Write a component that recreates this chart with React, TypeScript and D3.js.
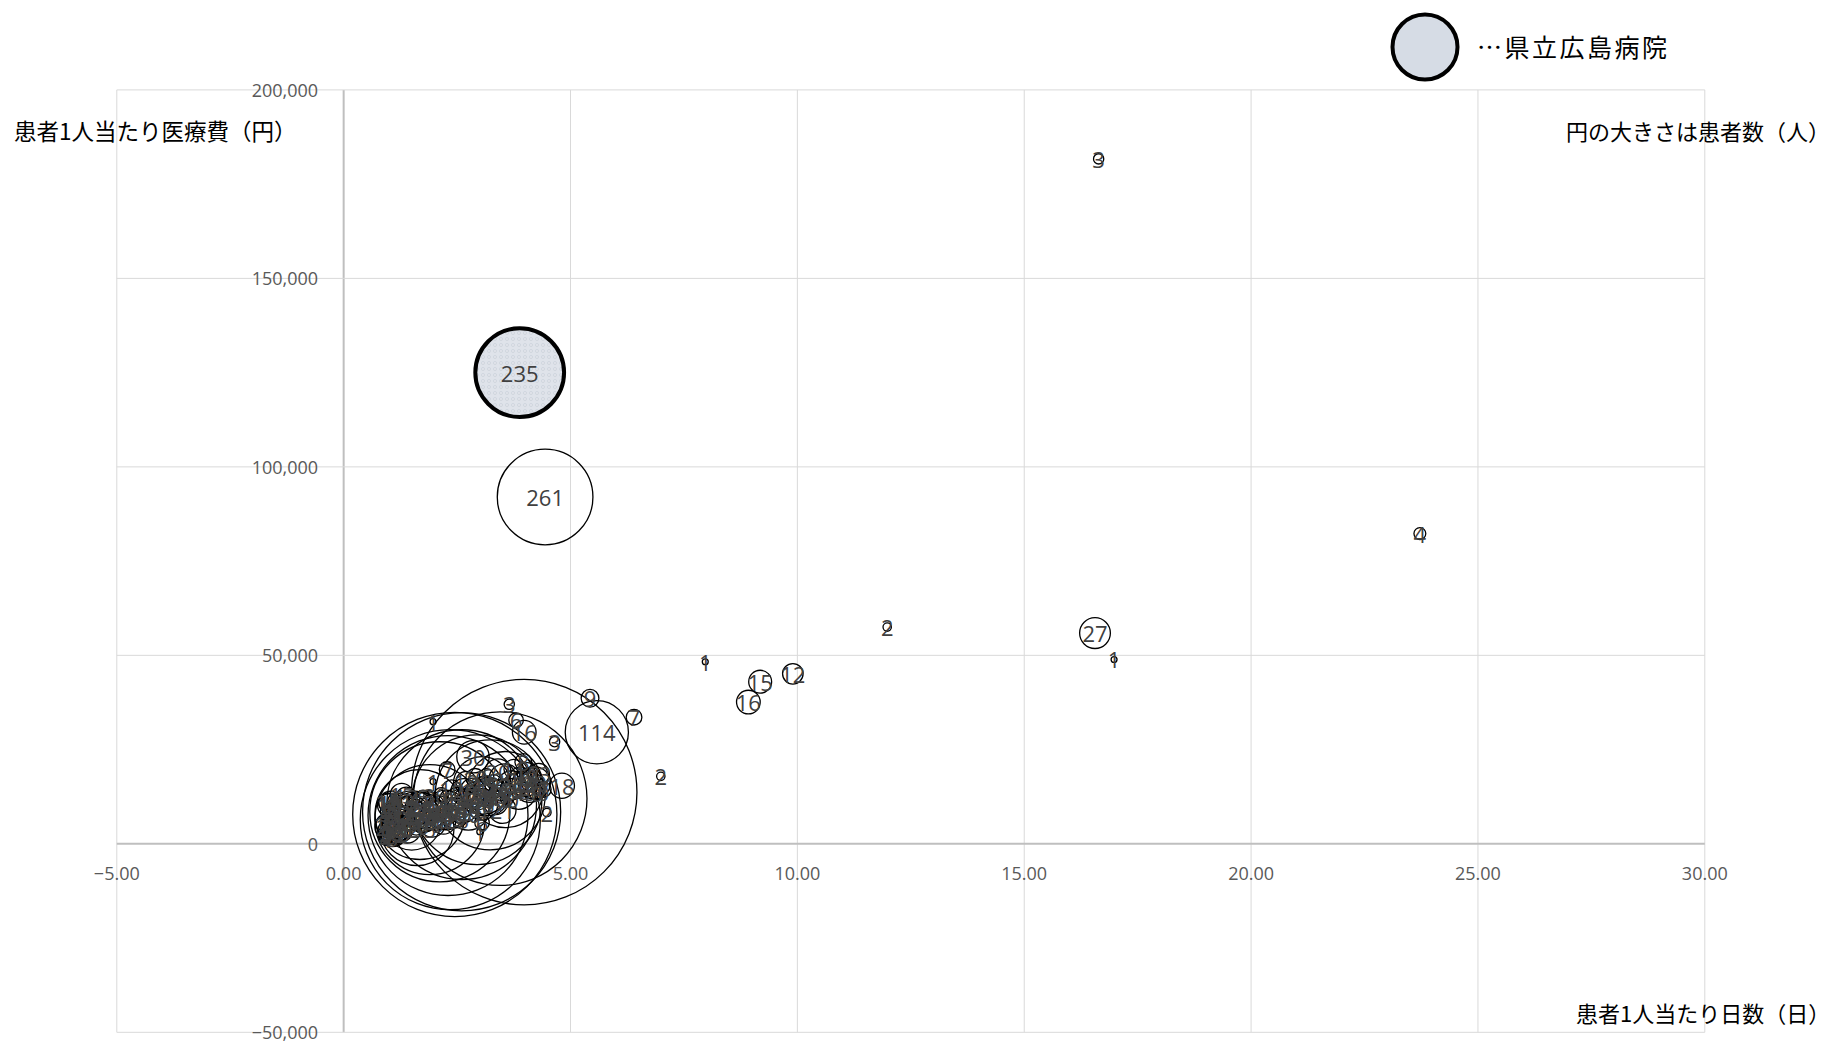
import React from "react";
import * as d3 from "d3";

// 患者1人当たり日数（日）
const days: number[] = [
  // large bubbles in the cluster
  3.98, 3.45, 2.45, 2.6, 2.35, 2.3, 2.12, 2.6, 1.9, 2.94, 1.68, 3.23, 3.56, 1.5, 1.62, 3.05,
  // dense small bubbles
  0.93, 0.95, 0.97, 0.94, 0.96, 0.99, 0.95, 1.0, 0.98, 1.02, 1.05, 1.08, 1.03, 1.1, 1.12, 0.92, 1.06, 1.03,
  1.22, 1.3, 1.35, 1.4, 1.45, 1.5, 1.55, 1.6, 1.65, 1.7, 1.75, 1.8, 1.85, 1.9, 1.95, 1.38, 1.28,
  2.05, 2.1, 2.15, 2.2, 2.25, 2.3, 2.38, 2.45, 2.5, 2.55, 2.6, 2.65, 2.7, 2.75, 2.8, 2.85, 2.9, 2.95,
  3.05, 3.1, 3.15, 3.2, 3.3, 3.35, 3.4, 3.45, 3.55, 3.6, 3.7, 3.75, 3.85, 3.9, 4.0, 4.05, 4.1, 4.15, 4.2, 4.25, 4.3,
  // labelled / scattered bubbles
  2.85, 2.28, 3.88, 4.44, 16.64, 23.72, 11.98, 16.56, 16.98, 7.97, 9.18, 9.9, 8.92, 5.43, 6.4, 5.58, 6.99, 4.81,
  3.65, 3.8, 3.98, 4.65, 1.97, 4.48, 3.0, 3.05, 1.97, 4.4, 3.5, 3.96,
  // more small bubbles in the left column
  0.91, 0.94, 0.97, 1.0, 1.04, 1.09, 1.14, 1.17, 1.2, 1.25, 1.32, 1.42, 1.58, 1.72, 1.88,
];

// 患者1人当たり医療費（円）
const costs: number[] = [
  13700, 12000, 7800, 8500, 6400, 7500, 8500, 10400, 6400, 11700, 7750, 13000, 14400, 6200, 4000, 15500,
  1200, 2500, 3800, 5200, 6500, 7800, 9000, 10200, 4500, 2000, 6000, 3200, 8400, 5000, 11500, 7200, 1500, 10900,
  4200, 6800, 9800, 3900, 5600, 8100, 11800, 4800, 7000, 9500, 12500, 6000, 8800, 10800, 5200, 12300, 13000,
  7500, 10200, 13000, 5800, 9000, 11800, 14500, 8200, 12000, 6800, 10000, 13800, 16500, 9200, 11500, 14000, 17500, 12800,
  10500, 15200, 18000, 12500, 16000, 11000, 19000, 14200, 17000, 12000, 15500, 19800, 14000, 17200, 16000, 18800, 15000, 17800, 16200, 13500, 18500,
  23100, 19700, 125000, 92000, 181700, 82300, 57500, 55900, 48900, 48300, 43000, 45100, 37600, 38600, 33600, 29600, 17900, 15400,
  37000, 32800, 29600, 27100, 32400, 8300, 3200, 5600, 16500, 14400, 9000, 21700,
  3000, 8600, 11000, 5500, 9500, 7500, 2600, 9000, 6300, 10800, 3000, 7600, 9900, 5200, 12800,
];

// 患者数（人）
const patients: number[] = [
  1450, 860, 1190, 1120, 925, 730, 560, 640, 345, 480, 230, 345, 165, 100, 155, 95,
  4, 9, 6, 12, 3, 5, 2, 15, 20, 8, 11, 25, 7, 14, 5, 1, 3, 15,
  18, 9, 12, 22, 6, 35, 4, 10, 16, 28, 5, 13, 40, 8, 19, 12, 15,
  24, 11, 6, 17, 45, 9, 10, 26, 14, 3, 33, 20, 12, 50, 7, 19, 10, 23,
  28, 12, 6, 41, 9, 17, 20, 13, 29, 5, 24, 11, 38, 16, 20, 12, 26, 9, 30, 6, 13,
  30, 7, 235, 261, 3, 4, 2, 27, 1, 1, 15, 12, 16, 9, 7, 114, 2, 18,
  3, 6, 16, 3, 1, 2, 1, 6, 1, 7, 21, 8,
  2, 4, 10, 6, 3, 9, 12, 7, 5, 11, 8, 4, 6, 9, 3,
];

// index of 県立広島病院 (235 patients)
const HOSPITAL_INDEX = 92;

const xTicks = [-5, 0, 5, 10, 15, 20, 25, 30];
const yTicks = [-50000, 0, 50000, 100000, 150000, 200000];

const yTitle = "患者1人当たり医療費（円）";
const xTitle = "患者1人当たり日数（日）";
const sizeNote = "円の大きさは患者数（人）";
const legendLabel = "…県立広島病院";

const W = 1831;
const H = 1044;
const PL = 116.8, PR = 1704.8, PT = 89.9, PB = 1032.3;

export default function App() {
  const x = d3.scaleLinear().domain([-5, 30]).range([PL, PR]);
  const y = d3.scaleLinear().domain([-50000, 200000]).range([PB, PT]);
  const r = d3.scaleSqrt().domain([0, 1450]).range([0, 2.96 * Math.sqrt(1450)]);
  const fmtX = d3.format(".2f");
  const fmtY = d3.format(",");
  const tickFont = "'Open Sans', 'DejaVu Sans', sans-serif";
  const cjk = "'Noto Sans CJK JP', 'Noto Sans', sans-serif";
  const pts = days.map((d, i) => ({ d, c: costs[i], n: patients[i], i }));
  const hosp = pts[HOSPITAL_INDEX];
  return (
    <svg width={W} height={H} style={{ position: "absolute", left: 0, top: 0, display: "block", background: "#fff" }}>
      <defs>
        <pattern id="dots" width="6" height="6" patternUnits="userSpaceOnUse">
          <rect width="6" height="6" fill="#dfe3ea" />
          <circle cx="3" cy="3" r="1.6" fill="none" stroke="#cdd3dc" strokeWidth="0.8" />
        </pattern>
      </defs>
      {/* gridlines */}
      {xTicks.map((t) => (
        <line key={"gx" + t} x1={x(t)} x2={x(t)} y1={PT} y2={PB}
          stroke={t === 0 ? "#bfbfbf" : "#d9d9d9"} strokeWidth={t === 0 ? 2 : 1} />
      ))}
      {yTicks.map((t) => (
        <line key={"gy" + t} x1={PL} x2={PR} y1={y(t)} y2={y(t)}
          stroke={t === 0 ? "#bfbfbf" : "#d9d9d9"} strokeWidth={t === 0 ? 2 : 1} />
      ))}
      {/* tick labels */}
      {yTicks.map((t) => (
        <text key={"ty" + t} x={x(0) - 25.5} y={y(t)} textAnchor="end" dominantBaseline="central"
          fontFamily={tickFont} fontSize={18} fill="#595959">{fmtY(t)}</text>
      ))}
      {xTicks.map((t) => (
        <text key={"tx" + t} x={x(t)} y={y(0) + 29} textAnchor="middle" dominantBaseline="central"
          fontFamily={tickFont} fontSize={18} fill="#595959">{fmtX(t)}</text>
      ))}
      {/* bubbles */}
      {pts.map((p) => p.i === HOSPITAL_INDEX ? null : (
        <circle key={"b" + p.i} cx={x(p.d)} cy={y(p.c)} r={r(p.n)} fill="none" stroke="#000" strokeWidth={1.3} />
      ))}
      <circle cx={x(hosp.d)} cy={y(hosp.c)} r={r(hosp.n) - 1} fill="url(#dots)" stroke="#000" strokeWidth={4} />
      {/* data labels */}
      {pts.map((p) => (
        <text key={"l" + p.i} x={x(p.d)} y={y(p.c)} textAnchor="middle" dominantBaseline="central"
          fontFamily={tickFont} fontSize={22} fill="#404040">{p.n}</text>
      ))}
      {/* titles */}
      <text x={14} y={130} dominantBaseline="central" fontFamily={cjk} fontSize={22.5} fill="#000">{yTitle}</text>
      <text x={1566} y={130} dominantBaseline="central" fontFamily={cjk} fontSize={22} fill="#000">{sizeNote}</text>
      <text x={1576} y={1012} dominantBaseline="central" fontFamily={cjk} fontSize={22} fill="#000">{xTitle}</text>
      {/* legend */}
      <circle cx={1425} cy={47} r={32.5} fill="#d6dce5" stroke="#000" strokeWidth={4} />
      <text x={1477} y={46} dominantBaseline="central" fontFamily={cjk} fontSize={25} letterSpacing={2.5} fill="#000">{legendLabel}</text>
    </svg>
  );
}
